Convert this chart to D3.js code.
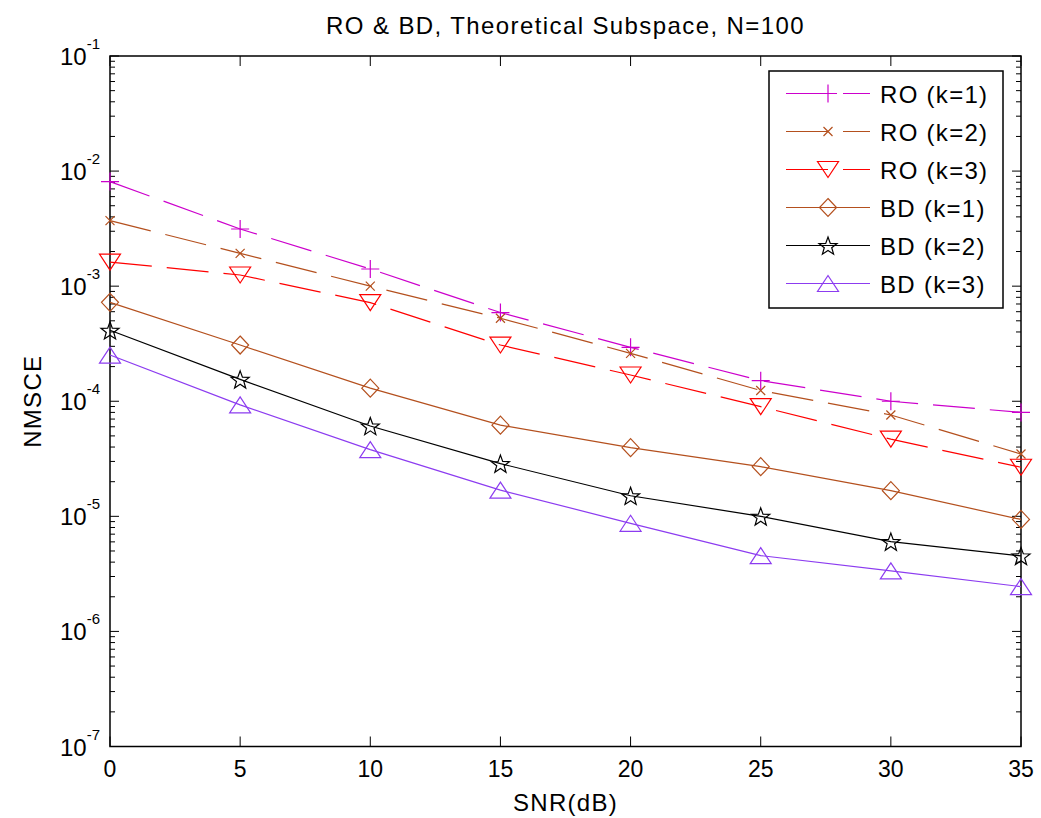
<!DOCTYPE html>
<html><head><meta charset="utf-8">
<script src="https://cdn.jsdelivr.net/npm/d3@7"></script>
<style>
body{margin:0;background:#fff}
text{font-family:"Liberation Sans",Arial,Helvetica,sans-serif;fill:#000}
</style>
</head><body>
<svg id="chart" width="1041" height="818"></svg>
<script>
// ---- data ----
const snr = [0, 5, 10, 15, 20, 25, 30, 35];
const ro1 = [8.1e-3, 3.14e-3, 1.41e-3, 5.9e-4, 2.94e-4, 1.51e-4, 1.0e-4, 8.0e-5];
const ro2 = [3.71e-3, 1.93e-3, 1.0e-3, 5.26e-4, 2.61e-4, 1.24e-4, 7.6e-5, 3.48e-5];
const ro3 = [1.62e-3, 1.25e-3, 7.2e-4, 3.08e-4, 1.69e-4, 8.97e-5, 4.68e-5, 2.67e-5];
const bd1 = [7.24e-4, 3.08e-4, 1.30e-4, 6.2e-5, 3.95e-5, 2.70e-5, 1.67e-5, 9.4e-6];
const bd2 = [4.14e-4, 1.55e-4, 6.1e-5, 2.87e-5, 1.51e-5, 1.0e-5, 6.03e-6, 4.53e-6];
const bd3 = [2.52e-4, 9.3e-5, 3.8e-5, 1.69e-5, 8.7e-6, 4.56e-6, 3.36e-6, 2.45e-6];
const seriesNames = ["RO (k=1)", "RO (k=2)", "RO (k=3)", "BD (k=1)", "BD (k=2)", "BD (k=3)"];
const seriesValues = [ro1, ro2, ro3, bd1, bd2, bd3];
const seriesColors = ["#cc00cc", "#b4501e", "#ff0000", "#b4501e", "#000000", "#8c3cf0"];
const seriesMarkers = ["plus", "cross", "tdown", "diamond", "star", "tup"];
const seriesDashed = [true, true, true, false, false, false];
const xTicks = [0, 5, 10, 15, 20, 25, 30, 35];
const yTickExps = [-7, -6, -5, -4, -3, -2, -1];
const titleText = "RO & BD, Theoretical Subspace, N=100";
const xLabel = "SNR(dB)";
const yLabel = "NMSCE";

// ---- layout ----
const L = 110, R = 1021, T = 56, B = 746.5;
const svg = d3.select("#chart");
const x = d3.scaleLinear().domain([0, 35]).range([L, R]);
const y = d3.scaleLog().domain([1e-7, 1e-1]).range([B, T]);

function markerPath(type) {
  const p = d3.path();
  if (type === "plus") { p.moveTo(-9, 0); p.lineTo(9, 0); p.moveTo(0, -9); p.lineTo(0, 9); }
  else if (type === "cross") { const s = 4.5; p.moveTo(-s, -s); p.lineTo(s, s); p.moveTo(-s, s); p.lineTo(s, -s); }
  else if (type === "tdown") { p.moveTo(-10.5, -8); p.lineTo(10.5, -8); p.lineTo(0, 8); p.closePath(); }
  else if (type === "tup") { p.moveTo(-10.5, 8); p.lineTo(10.5, 8); p.lineTo(0, -8); p.closePath(); }
  else if (type === "diamond") { p.moveTo(0, -9); p.lineTo(8.5, 0); p.lineTo(0, 9); p.lineTo(-8.5, 0); p.closePath(); }
  else if (type === "star") {
    const ro = 9.5, ri = 3.9;
    for (let i = 0; i < 10; i++) {
      const r = i % 2 === 0 ? ro : ri;
      const a = -Math.PI / 2 + i * Math.PI / 5;
      const px = r * Math.cos(a), py = r * Math.sin(a) + 1;
      if (i === 0) p.moveTo(px, py); else p.lineTo(px, py);
    }
    p.closePath();
  }
  return p.toString();
}

// ---- ticks ----
const tk = svg.append("g").attr("stroke", "#000").attr("stroke-width", 1);
xTicks.forEach(v => {
  tk.append("line").attr("x1", x(v)).attr("x2", x(v)).attr("y1", B).attr("y2", B - 10);
  tk.append("line").attr("x1", x(v)).attr("x2", x(v)).attr("y1", T).attr("y2", T + 10);
});
yTickExps.forEach((e, i) => {
  const v = Math.pow(10, e);
  tk.append("line").attr("x1", L).attr("x2", L + 9).attr("y1", y(v)).attr("y2", y(v));
  tk.append("line").attr("x1", R).attr("x2", R - 9).attr("y1", y(v)).attr("y2", y(v));
  if (i < yTickExps.length - 1) {
    for (let m = 2; m <= 9; m++) {
      const mv = m * v;
      tk.append("line").attr("x1", L).attr("x2", L + 5).attr("y1", y(mv)).attr("y2", y(mv));
      tk.append("line").attr("x1", R).attr("x2", R - 5).attr("y1", y(mv)).attr("y2", y(mv));
    }
  }
});

// box
svg.append("rect").attr("x", L).attr("y", T).attr("width", R - L).attr("height", B - T)
  .attr("fill", "none").attr("stroke", "#000").attr("stroke-width", 1.5);

// tick labels
xTicks.forEach(v => {
  svg.append("text").attr("x", x(v)).attr("y", 777).attr("text-anchor", "middle")
    .attr("font-size", 23).text(v);
});
yTickExps.forEach(e => {
  const t = svg.append("text").attr("x", 100).attr("y", y(Math.pow(10, e)) + 9)
    .attr("text-anchor", "end").attr("font-size", 24);
  t.append("tspan").text("10");
  t.append("tspan").attr("font-size", 15).attr("dy", -16).text(e);
});

// ---- series ----
const line = d3.line().x((d, i) => x(snr[i])).y(d => y(d));
seriesValues.forEach((vals, si) => {
  svg.append("path").attr("d", line(vals)).attr("fill", "none")
    .attr("stroke", seriesColors[si]).attr("stroke-width", 1.2)
    .attr("stroke-dasharray", seriesDashed[si] ? "42,15" : null);
  const mp = markerPath(seriesMarkers[si]);
  vals.forEach((v, i) => {
    svg.append("path").attr("d", mp).attr("transform", `translate(${x(snr[i])},${y(v)})`)
      .attr("fill", "none").attr("stroke", seriesColors[si]).attr("stroke-width", 1.2);
  });
});

// ---- legend ----
const lg = svg.append("g");
lg.append("rect").attr("x", 769).attr("y", 71).attr("width", 234).attr("height", 237)
  .attr("fill", "#fff").attr("stroke", "#000").attr("stroke-width", 1.5);
seriesNames.forEach((name, si) => {
  const cy = 93.5 + si * 38;
  lg.append("line").attr("x1", 786).attr("x2", 870).attr("y1", cy).attr("y2", cy)
    .attr("stroke", seriesColors[si]).attr("stroke-width", 1.2)
    .attr("stroke-dasharray", seriesDashed[si] ? "42,15" : null);
  lg.append("path").attr("d", markerPath(seriesMarkers[si])).attr("transform", `translate(828,${cy})`)
    .attr("fill", "none").attr("stroke", seriesColors[si]).attr("stroke-width", 1.2);
  lg.append("text").attr("x", 880).attr("y", cy + 9).attr("font-size", 24)
    .attr("letter-spacing", 1.3).text(name);
});

// ---- titles ----
svg.append("text").attr("x", (L + R) / 2).attr("y", 34).attr("text-anchor", "middle")
  .attr("font-size", 24).attr("letter-spacing", 1.4).text(titleText);
svg.append("text").attr("x", (L + R) / 2).attr("y", 811).attr("text-anchor", "middle")
  .attr("font-size", 24).attr("letter-spacing", 1.3).text(xLabel);
svg.append("text").attr("transform", `translate(41,${(T + B) / 2}) rotate(-90)`)
  .attr("text-anchor", "middle").attr("font-size", 24).attr("letter-spacing", 1.3).text(yLabel);
</script>
</body></html>
